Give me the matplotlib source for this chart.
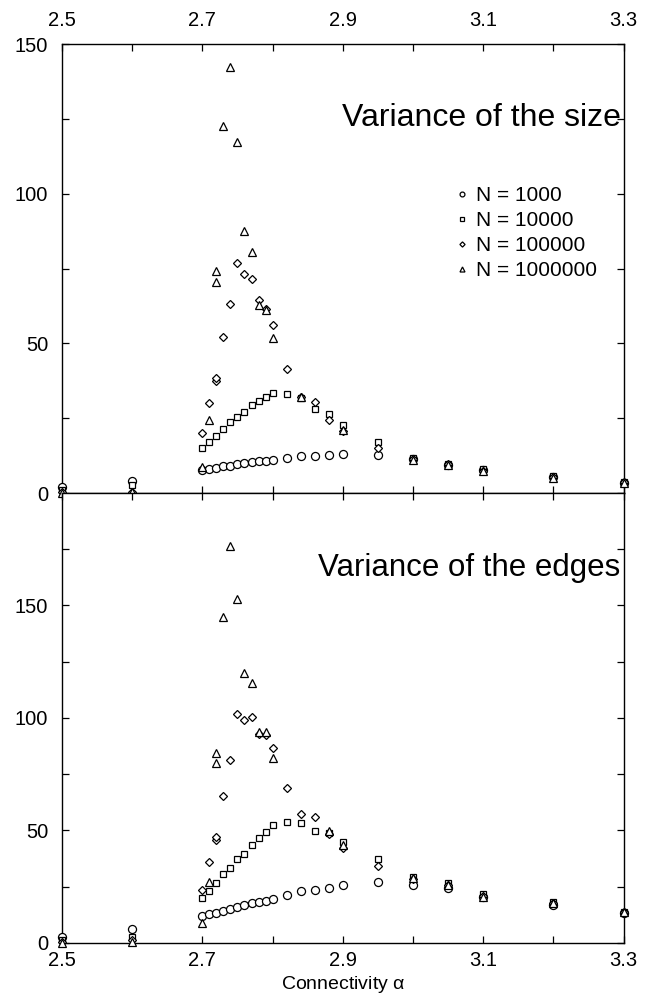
import matplotlib
matplotlib.use("Agg")
import matplotlib.pyplot as plt
from matplotlib.ticker import FixedLocator

plt.rcParams['font.family'] = ['Liberation Sans', 'DejaVu Sans']
plt.rcParams['mathtext.fontset'] = 'custom'
plt.rcParams['mathtext.rm'] = 'Liberation Sans'
plt.rcParams['mathtext.it'] = 'Liberation Sans'

# Connectivity values sampled for each system size
alpha_1e3 = [2.5, 2.6, 2.70, 2.71, 2.72, 2.73, 2.74, 2.75, 2.76, 2.77, 2.78, 2.79,
             2.80, 2.82, 2.84, 2.86, 2.88, 2.90, 2.95, 3.0, 3.05, 3.1, 3.2, 3.3]
alpha_1e4 = alpha_1e3
alpha_1e5 = [2.5, 2.6, 2.70, 2.71, 2.72, 2.72, 2.73, 2.74, 2.75, 2.76, 2.77, 2.78,
             2.79, 2.80, 2.82, 2.84, 2.86, 2.88, 2.90, 2.95, 3.0, 3.05, 3.1, 3.2, 3.3]
alpha_1e6_size = [2.5, 2.6, 2.70, 2.71, 2.72, 2.72, 2.73, 2.74, 2.75, 2.76, 2.77,
                  2.78, 2.79, 2.80, 2.84, 2.90, 3.0, 3.05, 3.1, 3.2, 3.3]
alpha_1e6_edges = [2.5, 2.6, 2.70, 2.71, 2.72, 2.72, 2.73, 2.74, 2.75, 2.76, 2.77,
                   2.78, 2.79, 2.80, 2.88, 2.90, 3.0, 3.05, 3.1, 3.2, 3.3]

# Variance of the size
size_1e3 = [2.0, 4.1, 7.8, 8.1, 8.4, 8.9, 9.2, 9.6, 10.0, 10.4, 10.7, 10.8,
            11.1, 11.7, 12.4, 12.5, 12.6, 13.0, 12.8, 11.4, 9.5, 7.8, 5.3, 3.5]
size_1e4 = [1.1, 2.8, 14.9, 17.0, 19.2, 21.5, 23.7, 25.5, 27.1, 29.5, 30.9, 32.0,
            33.4, 33.1, 31.8, 28.1, 26.4, 22.8, 16.9, 11.8, 9.8, 8.1, 5.8, 3.8]
size_1e5 = [0.3, 0.5, 20.1, 30.1, 37.5, 38.5, 52.0, 63.3, 76.9, 73.2, 71.6, 64.6,
            61.5, 56.1, 41.5, 32.1, 30.4, 24.5, 20.8, 15.0, 11.5, 9.6, 7.5, 5.2, 3.6]
size_1e6 = [0.0, 0.2, 8.6, 24.5, 74.1, 70.4, 122.8, 142.5, 117.3, 87.5, 80.5,
            63.0, 61.3, 51.8, 32.0, 21.0, 11.2, 9.3, 7.2, 5.0, 3.4]

# Variance of the edges
edges_1e3 = [2.7, 6.1, 11.9, 12.8, 13.3, 14.2, 15.1, 15.7, 16.6, 17.5, 18.2, 18.5,
             19.4, 21.1, 22.8, 23.4, 24.2, 25.7, 26.9, 25.7, 24.2, 20.5, 16.8, 13.1]
edges_1e4 = [1.0, 2.7, 19.7, 23.0, 26.4, 30.4, 33.4, 37.1, 39.4, 43.5, 46.7, 49.1,
             52.3, 53.8, 53.4, 49.8, 48.9, 44.7, 37.1, 29.4, 26.4, 21.7, 18.0, 13.8]
edges_1e5 = [0.5, 1.0, 23.4, 36.0, 45.8, 47.0, 65.2, 81.3, 101.6, 99.0, 100.5, 93.0,
             92.4, 86.5, 68.7, 57.1, 56.0, 48.3, 42.0, 34.3, 28.5, 25.5, 21.0, 17.5, 13.5]
edges_1e6 = [0.0, 0.3, 8.9, 27.1, 84.5, 80.1, 145.0, 176.4, 152.9, 119.8, 115.4,
             93.8, 93.8, 82.3, 49.5, 43.5, 29.0, 25.5, 20.5, 17.5, 13.5]

labels = ["N = 1000", "N = 10000", "N = 100000", "N = 1000000"]
x_major = [2.5, 2.7, 2.9, 3.1, 3.3]
x_minor = [2.6, 2.8, 3.0, 3.2]

fig = plt.figure(figsize=(6.56, 10.06), dpi=100)
left, right = 0.0945, 0.9505
ax1 = fig.add_axes([left, 0.5099, right - left, 0.9560 - 0.5099])
ax2 = fig.add_axes([left, 0.0629, right - left, 0.5099 - 0.0629])

styles = [
    dict(marker='o', ms=5.8),
    dict(marker='s', ms=4.8),
    dict(marker='D', ms=4.4),
    dict(marker='^', ms=6.0),
]


def draw(ax, xs, ys):
    handles = []
    for x, y, st, lab in zip(xs, ys, styles, labels):
        h, = ax.plot(x, y, linestyle='none', mfc='white', mec='black', mew=0.9,
                     clip_on=False, label=lab, zorder=3, **st)
        handles.append(h)
    ax.set_xlim(2.5, 3.3)
    ax.xaxis.set_major_locator(FixedLocator(x_major))
    ax.xaxis.set_minor_locator(FixedLocator(x_minor))
    ax.tick_params(which='both', direction='in', top=True, right=True,
                   length=5, width=0.9, labelsize=14.5)
    for s in ax.spines.values():
        s.set_linewidth(1.0)
    return handles


handles = draw(ax1, [alpha_1e3, alpha_1e4, alpha_1e5, alpha_1e6_size],
               [size_1e3, size_1e4, size_1e5, size_1e6])
draw(ax2, [alpha_1e3, alpha_1e4, alpha_1e5, alpha_1e6_edges],
     [edges_1e3, edges_1e4, edges_1e5, edges_1e6])

ax1.set_ylim(0, 150)
ax1.yaxis.set_major_locator(FixedLocator([0, 50, 100, 150]))
ax1.yaxis.set_minor_locator(FixedLocator([25, 75, 125]))
ax1.tick_params(axis='x', which='both', labelbottom=False, labeltop=True, pad=10)
ax1.tick_params(axis='y', pad=10)

ax2.set_ylim(0, 200)
ax2.yaxis.set_major_locator(FixedLocator([0, 50, 100, 150]))
ax2.yaxis.set_minor_locator(FixedLocator([25, 75, 125, 175]))
ax2.tick_params(axis='x', which='both', labelbottom=True, labeltop=False, pad=6)
ax2.tick_params(axis='y', pad=10)
ax2.set_xlabel(r"Connectivity $\alpha$", fontsize=14, labelpad=3)

ax1.text(0.995, 0.836, "Variance of the size", transform=ax1.transAxes,
         ha='right', va='center', fontsize=23)
ax2.text(0.995, 0.834, "Variance of the edges", transform=ax2.transAxes,
         ha='right', va='center', fontsize=22.5)

ax1.legend(handles=handles, loc='upper left', bbox_to_anchor=(0.676, 0.716),
           frameon=False, fontsize=15, markerscale=0.6, numpoints=1,
           handlelength=0.6, handletextpad=0.35, labelspacing=0.28,
           borderpad=0.2)

fig.savefig("out.png", dpi=100)
